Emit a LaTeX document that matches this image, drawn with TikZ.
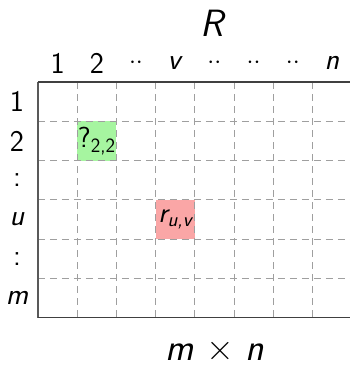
\documentclass[tikz,border=0pt]{standalone}
\usepackage{amsmath}
\usepackage{fontspec}
\renewcommand{\familydefault}{\sfdefault}
\tikzset{
  gridline/.style={draw=gray!75, line width=0.9pt, dash pattern=on 7pt off 5pt},
  lbl/.style={inner sep=0pt, font=\fontsize{30}{30}\selectfont\sffamily},
  big/.style={inner sep=0pt, font=\fontsize{38}{38}\selectfont\sffamily},
  cell/.style={inner sep=0pt, font=\fontsize{29}{29}\selectfont\sffamily}
}
\begin{document}
\begin{tikzpicture}[x=1pt,y=-1pt]
\useasboundingbox (0,0) rectangle (350,368);
% coloured cells
\fill[fill={rgb,255:red,166;green,245;blue,160}] (77.2,121.3) rectangle (116.4,160.6);
\fill[fill={rgb,255:red,250;green,166;blue,166}] (155.6,199.9) rectangle (194.8,239.2);
% interior dashed grid
\foreach \k in {1,...,8} {
  \draw[gridline] ({38+39.2*\k},82) -- ({38+39.2*\k},317.8);
}
\foreach \k in {1,...,5} {
  \draw[gridline] (38,{82+39.3*\k}) -- (352,{82+39.3*\k});
}
% borders
\draw[gray!70!black, line width=1.1pt] (38,82) -- (38,317.8);
\draw[black!75, line width=1.1pt] (38,82) -- (352,82);
\draw[black!75, line width=1.1pt] (38,317.8) -- (352,317.8);
% cell texts
\node[cell] (q22) at (96.8,141) {?$_{\text{2,2}}$};
\node[cell] (ruv) at (175.2,219.5) {$\textit{r}_{\textit{u,v}}$};
% column labels
\node[lbl] (c1) at (57.6,63) {1};
\node[lbl] (c2) at (96.8,63) {2};
\node[lbl] (c3) at (136,63) {$\cdot\cdot$};
\node[lbl] (c4) at (175.2,63) {\textit{v}};
\node[lbl] (c5) at (214.4,63) {$\cdot\cdot$};
\node[lbl] (c6) at (253.6,63) {$\cdot\cdot$};
\node[lbl] (c7) at (292.8,63) {$\cdot\cdot$};
\node[lbl] (c8) at (332,63) {\textit{n}};
% row labels
\node[lbl] (r1) at (17,101.6) {1};
\node[lbl] (r2) at (17,141) {2};
\node[lbl] (r3) at (17,180.2) {:};
\node[lbl] (r4) at (17,219.5) {\textit{u}};
\node[lbl] (r5) at (17,258.8) {:};
\node[lbl] (r6) at (17,298) {\textit{m}};
% titles
\node[big] (title) at (213.5,23) {\textit{R}};
\node[big] (size) at (215,351) {\textit{m} × \textit{n}};
\end{tikzpicture}
\end{document}
